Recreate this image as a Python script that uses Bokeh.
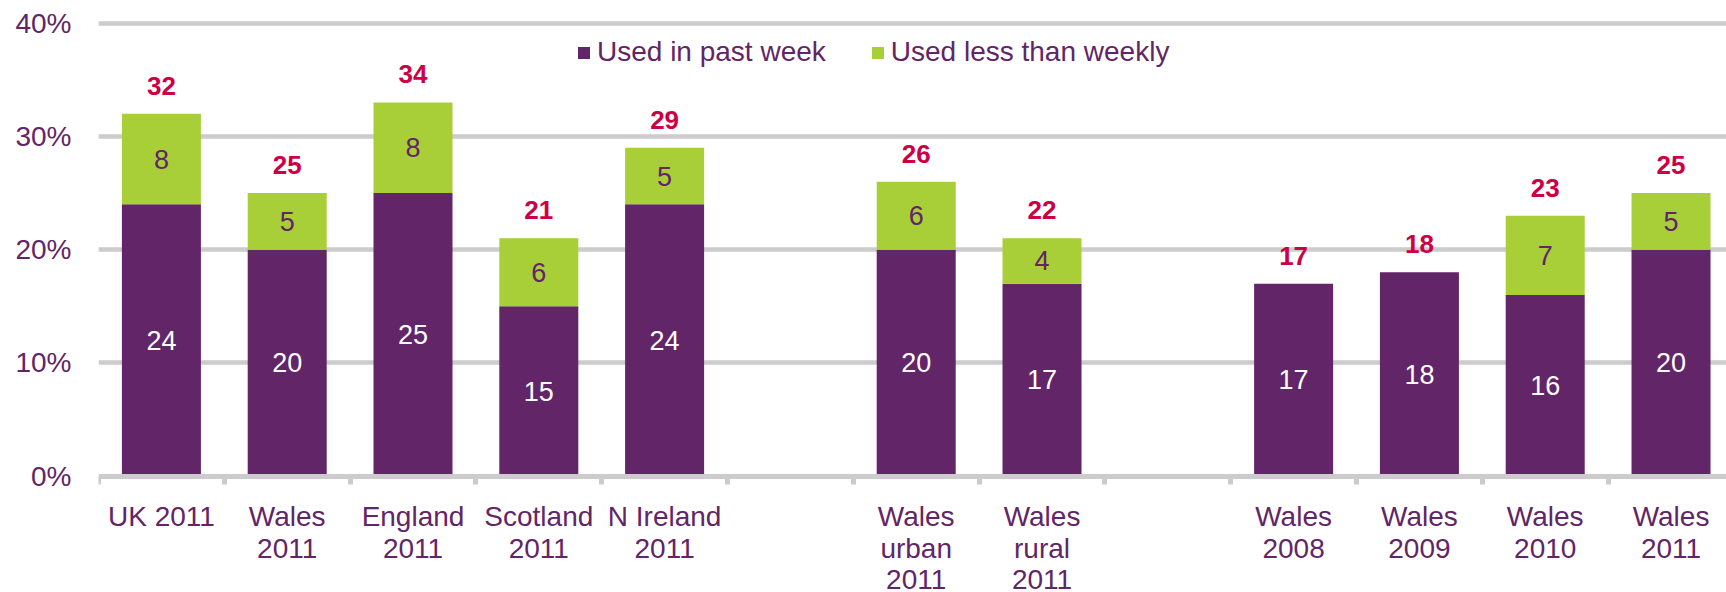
from bokeh.plotting import figure
from bokeh.models import Range1d, FixedTicker, ColumnDataSource, Legend, LegendItem
from bokeh.core.properties import value
from bokeh.embed import file_html
from bokeh.resources import INLINE

# ---- data ----
categories = ["UK 2011", "Wales\n2011", "England\n2011", "Scotland\n2011", "N Ireland\n2011",
              "Wales\nurban\n2011", "Wales\nrural\n2011",
              "Wales\n2008", "Wales\n2009", "Wales\n2010", "Wales\n2011"]
used_past_week = [24, 20, 25, 15, 24, 20, 17, 17, 18, 16, 20]
used_less_weekly = [8, 5, 8, 6, 5, 6, 4, 0, 0, 7, 5]
totals = [32, 25, 34, 21, 29, 26, 22, 17, 18, 23, 25]
y_ticks = [0, 10, 20, 30, 40]
y_tick_labels = ["0%", "10%", "20%", "30%", "40%"]
series_names = ["Used in past week", "Used less than weekly"]

# ---- layout (slot index of each category; gaps between groups) ----
slots = [0, 1, 2, 3, 4, 6, 7, 9, 10, 11, 12]
xs = [s + 0.5 for s in slots]

PURPLE = "#622567"
GREEN = "#a9cf38"
TEXT = "#622567"
RED = "#cc0044"
GRID = "#cccccc"
FONT = "Liberation Sans"

src = ColumnDataSource(dict(
    x=xs, past=used_past_week, less=used_less_weekly,
    top=[a + b for a, b in zip(used_past_week, used_less_weekly)],
    total=[str(t) for t in totals],
    past_lbl=[str(v) for v in used_past_week],
    past_mid=[v / 2 for v in used_past_week],
))
less_idx = [i for i, v in enumerate(used_less_weekly) if v > 0]
src_less = ColumnDataSource(dict(
    x=[xs[i] for i in less_idx],
    y=[used_past_week[i] + used_less_weekly[i] / 2 for i in less_idx],
    t=[str(used_less_weekly[i]) for i in less_idx],
))

p = figure(width=1726, height=592, x_range=Range1d(0, 12.941), y_range=Range1d(-10.27, 42.0),
           output_backend="svg", toolbar_location=None,
           min_border_left=98, min_border_right=0, min_border_top=0, min_border_bottom=0)
p.outline_line_color = None
p.background_fill_color = "white"
p.border_fill_color = "white"

# grid
p.xgrid.visible = False
p.ygrid.ticker = FixedTicker(ticks=[10, 20, 30, 40])
p.ygrid.grid_line_color = GRID
p.ygrid.grid_line_width = 4.5

# bars
rs = p.vbar_stack(["past", "less"], x="x", width=0.628, color=[PURPLE, GREEN],
                  line_color=None, source=src)

# inner labels
p.text(x="x", y="past_mid", text="past_lbl", source=src, text_color="white",
       text_font=value(FONT), text_font_size="27px", text_align="center", text_baseline="middle")
p.text(x="x", y="y", text="t", source=src_less, text_color=TEXT,
       text_font=value(FONT), text_font_size="27px", text_align="center", text_baseline="middle")
# totals
p.text(x="x", y="top", text="total", source=src, text_color=RED, text_font_style="bold",
       text_font=value(FONT), text_font_size="26px", text_align="center",
       text_baseline="alphabetic", y_offset=-28)

# x axis at y=0: category labels at centres, boundary ticks as minor ticks
xa = p.xaxis[0]
xa.fixed_location = 0
xa.ticker = FixedTicker(ticks=xs, minor_ticks=list(range(14)))
xa.major_label_overrides = {x: c for x, c in zip(xs, categories)}
xa.axis_line_color = GRID
xa.axis_line_width = 5
xa.major_tick_line_color = None
xa.major_tick_in = 0
xa.major_tick_out = 0
xa.minor_tick_line_color = GRID
xa.minor_tick_line_width = 5
xa.minor_tick_in = 0
xa.minor_tick_out = 8
xa.major_label_standoff = 17
xa.major_label_text_font = FONT
xa.major_label_text_font_size = "28px"
xa.major_label_text_color = TEXT
xa.major_label_text_line_height = 1.02

# y axis
ya = p.yaxis[0]
ya.ticker = FixedTicker(ticks=y_ticks)
ya.major_label_overrides = {t: l for t, l in zip(y_ticks, y_tick_labels)}
ya.axis_line_color = None
ya.major_tick_line_color = None
ya.minor_tick_line_color = None
ya.major_label_standoff = 21
ya.major_label_text_font = FONT
ya.major_label_text_font_size = "28px"
ya.major_label_text_color = TEXT

# legend
legend = Legend(items=[LegendItem(label=series_names[0], renderers=[rs[0]]),
                       LegendItem(label=series_names[1], renderers=[rs[1]])],
                location=(478, 524), orientation="horizontal",
                glyph_width=15, glyph_height=15, label_standoff=6, spacing=44,
                padding=0, margin=0, border_line_color=None, background_fill_alpha=0,
                label_text_font=FONT, label_text_font_size="28px", label_text_color=TEXT)
p.add_layout(legend, "center")

open("out.html", "w").write(file_html(p, INLINE))
